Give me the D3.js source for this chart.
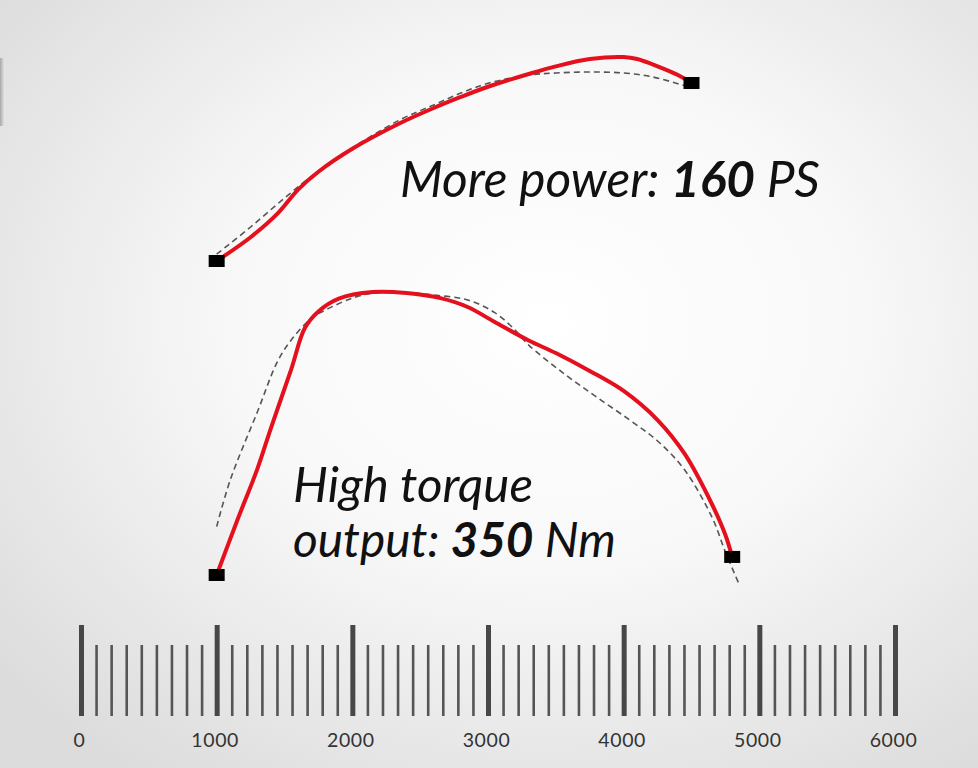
<!DOCTYPE html>
<head>
<meta charset="utf-8">
<script src="https://d3js.org/d3.v7.min.js"></script>
<style>
  html, body { margin: 0; padding: 0; background: #fff; }
  svg { display: block; }
</style>
</head>
<body>
<div id="chart"></div>
<script>

// engine speed (rpm) and values
var powerRpm      = [1000, 1250, 1450, 1600, 1750, 2000, 2350, 2600, 2800, 3000, 3300, 3500, 3750, 4000, 4100, 4250, 4400, 4500];
var powerNew      = [40, 54, 68, 82, 92.5, 106, 121, 130, 136.5, 142.5, 150, 154.5, 158.8, 160, 158.8, 154.5, 149.4, 144.7];

var powerOldRpm   = [1000, 1250, 1500, 1750, 2000, 2350, 2600, 2800, 3000, 3300, 3500, 3750, 4000, 4200, 4400, 4500];
var powerOld      = [44, 60, 77, 93, 106.5, 123, 131.8, 138.8, 144.5, 149.4, 150.6, 151.2, 150.6, 148.5, 144.3, 141.8];

var torqueRpm     = [1000, 1150, 1300, 1400, 1550, 1650, 1750, 1900, 2150, 2400, 2650, 2850, 3050, 3300, 3500, 3750, 4000, 4250, 4450, 4650, 4750, 4800];
var torqueNew     = [116.4, 161, 204, 237.7, 286.4, 320.3, 334, 344.6, 350, 349.2, 344.9, 337.6, 325.2, 310, 299.6, 284.8, 268.3, 244.3, 216.3, 175, 149.4, 131.3];

var torqueOldRpm  = [1000, 1100, 1300, 1450, 1550, 1700, 1800, 2000, 2150, 2400, 2600, 2850, 3050, 3200, 3300, 3550, 3800, 4050, 4250, 4450, 4650, 4750, 4850];
var torqueOld     = [156.3, 194.8, 251, 293, 310.4, 328.5, 335, 345, 349, 349.5, 347.5, 343.4, 333, 318.6, 306.2, 283.5, 263.3, 243.9, 227, 203, 164.3, 135.4, 109];

// axis ticks
var majorTicks = [0, 1000, 2000, 3000, 4000, 5000, 6000];
var minorPerMajor = 9;

// labels
var powerLabel  = [["More power: ", "normal"], ["160", "bold"], [" PS", "normal"]];
var torqueLabel1 = [["High torque", "normal"]];
var torqueLabel2 = [["output: ", "normal"], ["350", "bold"], [" Nm", "normal"]];

var width = 978, height = 768;

var svg = d3.select("#chart")
    .append("svg")
    .attr("width", width)
    .attr("height", height);

// soft grey backdrop
var defs = svg.append("defs");
var bg = defs.append("radialGradient")
    .attr("id", "bg")
    .attr("cx", "56%").attr("cy", "42%").attr("r", "72%");
bg.append("stop").attr("offset", "0%").attr("stop-color", "#ffffff");
bg.append("stop").attr("offset", "45%").attr("stop-color", "#f8f8f8");
bg.append("stop").attr("offset", "100%").attr("stop-color", "#dcdcdc");

var edge = defs.append("linearGradient")
    .attr("id", "edge").attr("x1", "0").attr("x2", "1");
edge.append("stop").attr("offset", "0%").attr("stop-color", "#9a9a9a");
edge.append("stop").attr("offset", "100%").attr("stop-color", "#efefef");

svg.append("rect")
    .attr("width", width).attr("height", height)
    .attr("fill", "url(#bg)");

svg.append("rect")
    .attr("x", 0).attr("y", 58).attr("width", 5).attr("height", 68)
    .attr("fill", "url(#edge)").attr("opacity", 0.8);

// scales
var x = d3.scaleLinear().domain([0, 6000]).range([81, 895]);
var yPower = d3.scaleLinear().domain([0, 160]).range([329, 57]);
var yTorque = d3.scaleLinear().domain([0, 350]).range([716, 292]);

// ruler style axis
var minorTicks = [];
majorTicks.slice(0, -1).forEach(function(m) {
    d3.range(1, minorPerMajor).forEach(function(i) {
        minorTicks.push(m + i * 1000 / minorPerMajor);
    });
});

var axisY = 716;

var minorAxis = svg.append("g")
    .attr("transform", "translate(0," + axisY + ")")
    .call(d3.axisTop(x).tickValues(minorTicks).tickSize(71).tickFormat(""));
minorAxis.select(".domain").remove();
minorAxis.selectAll("line").attr("stroke", "#555").attr("stroke-width", 2.6);

var majorAxis = svg.append("g")
    .attr("transform", "translate(0," + axisY + ")")
    .call(d3.axisTop(x).tickValues(majorTicks).tickSize(91).tickFormat(""));
majorAxis.select(".domain").remove();
majorAxis.selectAll("line").attr("stroke", "#474747").attr("stroke-width", 5);

var labelAxis = svg.append("g")
    .attr("transform", "translate(0," + axisY + ")")
    .call(d3.axisBottom(x).tickValues(majorTicks).tickSize(0).tickPadding(17).tickFormat(d3.format("d")));
labelAxis.select(".domain").remove();
labelAxis.selectAll("text")
    .attr("dx", -2)
    .attr("fill", "#333")
    .style("font-family", "Lato, 'DejaVu Sans', sans-serif")
    .style("font-size", "19.5px")
    .style("letter-spacing", "0.6px");

// curves
function series(rpm, vals) {
    return rpm.map(function(r, i) { return [r, vals[i]]; });
}

var smooth = d3.curveCatmullRom.alpha(0.5);
var lineP = d3.line().x(function(d) { return x(d[0]); }).y(function(d) { return yPower(d[1]); }).curve(smooth);
var lineT = d3.line().x(function(d) { return x(d[0]); }).y(function(d) { return yTorque(d[1]); }).curve(smooth);

var pNew = series(powerRpm, powerNew);
var pOld = series(powerOldRpm, powerOld);
var tNew = series(torqueRpm, torqueNew);
var tOld = series(torqueOldRpm, torqueOld);

svg.append("path").datum(pOld).attr("d", lineP)
    .attr("fill", "none").attr("stroke", "#555").attr("stroke-width", 1.6).attr("stroke-dasharray", "6,4");
svg.append("path").datum(tOld).attr("d", lineT)
    .attr("fill", "none").attr("stroke", "#555").attr("stroke-width", 1.6).attr("stroke-dasharray", "6,4");

svg.append("path").datum(pNew).attr("d", lineP)
    .attr("fill", "none").attr("stroke", "#e5101d").attr("stroke-width", 4).attr("stroke-linecap", "round");
svg.append("path").datum(tNew).attr("d", lineT)
    .attr("fill", "none").attr("stroke", "#e5101d").attr("stroke-width", 4).attr("stroke-linecap", "round");

// square end markers
var ends = [
    {px: x(pNew[0][0]), py: yPower(pNew[0][1])},
    {px: x(pNew[pNew.length - 1][0]), py: yPower(pNew[pNew.length - 1][1])},
    {px: x(tNew[0][0]), py: yTorque(tNew[0][1])},
    {px: x(tNew[tNew.length - 1][0]), py: yTorque(tNew[tNew.length - 1][1])}
];
svg.selectAll(".marker")
    .data(ends)
    .enter().append("rect")
    .attr("class", "marker")
    .attr("x", function(d) { return d.px - 8; })
    .attr("y", function(d) { return d.py - 6; })
    .attr("width", 16).attr("height", 12)
    .attr("fill", "#000");

// italic labels, sized to fit the width they take in the picture
function label(parts, left, baseline, targetWidth) {
    var t = svg.append("text")
        .attr("x", left).attr("y", baseline)
        .attr("fill", "#111")
        .style("font-family", "Lato, 'Open Sans', sans-serif")
        .style("font-style", "italic")
        .style("font-size", "40px");
    parts.forEach(function(p) {
        t.append("tspan").attr("font-weight", p[1]).text(p[0]);
    });
    var w = t.node().getComputedTextLength();
    t.style("font-size", (40 * targetWidth / w) + "px");
    return t;
}

label(powerLabel, 400, 197, 420);
label(torqueLabel1, 293, 502, 240);
label(torqueLabel2, 293, 557, 323);

</script>
</body>
